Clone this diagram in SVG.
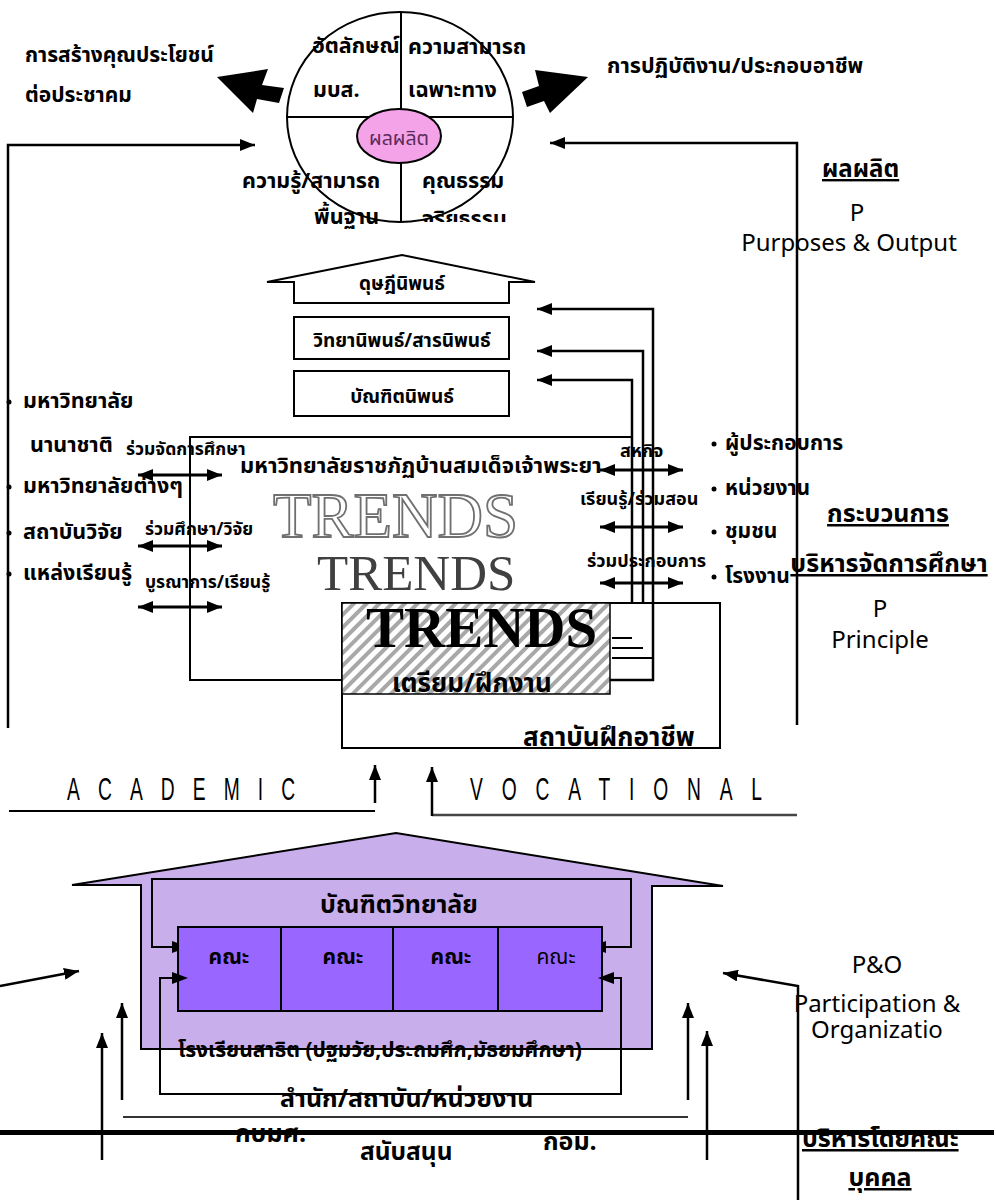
<svg xmlns="http://www.w3.org/2000/svg" width="996" height="1200" viewBox="0 0 996 1200">
<style>
.th{font-family:"Noto Sans Thai","Noto Sans Thai UI","Tahoma","Garuda","Loma","DejaVu Sans",sans-serif;font-weight:bold;fill:#000}
.en{font-family:"Noto Sans","Open Sans","DejaVu Sans",sans-serif;fill:#000;font-size:24px}
.ln{fill:none;stroke:#000;stroke-width:2}
.la{fill:none;stroke:#000;stroke-width:2.5;marker-end:url(#ah)}
.dbl{fill:none;stroke:#000;stroke-width:3;marker-start:url(#ah);marker-end:url(#ah)}
.mid{text-anchor:middle}
.u{text-decoration:underline}
.sp{font-family:"Liberation Sans","Noto Sans",sans-serif;font-size:31px;fill:#000}
</style>
<defs>
<marker id="ah" viewBox="0 0 15 12" refX="15" refY="6" markerWidth="15" markerHeight="12" markerUnits="userSpaceOnUse" orient="auto-start-reverse"><path d="M0,0 L15,6 L0,12 z" fill="#000"/></marker>
<pattern id="hatch" patternUnits="userSpaceOnUse" width="9" height="9" patternTransform="rotate(45)"><rect width="9" height="9" fill="#fff"/><rect x="0" y="0" width="4" height="9" fill="#a8a8a8"/></pattern>
<clipPath id="cc"><rect x="0" y="0" width="996" height="222"/></clipPath>
</defs>

<g id="left-label">
<text class="th" x="25" y="62" font-size="21">การสร้างคุณประโยชน์</text>
<text class="th" x="25" y="102" font-size="21">ต่อประชาคม</text>
<polygon points="217,77 268,69 262,85 284,88 279,103 257,99 253,113" fill="#000"/>
</g>

<g id="right-label">
<text class="th" x="607" y="73" font-size="21.5">การปฏิบัติงาน/ประกอบอาชีพ</text>
<polygon points="588,77 535,70 539,86 522,92 527,107 544,101 550,113" fill="#000"/>
</g>

<g id="output-circle">
<ellipse cx="400" cy="117" rx="113" ry="105" fill="#fff" stroke="#000" stroke-width="2"/>
<line class="ln" x1="401" y1="12" x2="401" y2="222"/>
<line class="ln" x1="288" y1="117" x2="513" y2="117"/>
<ellipse cx="399" cy="136" rx="42" ry="27" fill="#f4a3e8" stroke="#000" stroke-width="2"/>
<text class="th mid" x="399" y="145" font-size="19.5" style="fill:#5a2a5a;font-weight:normal">ผลผลิต</text>
<text class="th" x="312" y="53" font-size="21.5">อัตลักษณ์</text>
<text class="th" x="313" y="97" font-size="21.5">มบส.</text>
<text class="th" x="408" y="54" font-size="21.5">ความสามารถ</text>
<text class="th" x="408" y="97" font-size="21.5">เฉพาะทาง</text>
<text class="th" x="242" y="188" font-size="21.5">ความรู้/สามารถ</text>
<text class="th" x="314" y="224" font-size="21.5">พื้นฐาน</text>
<text class="th" x="422" y="226" font-size="21.5" clip-path="url(#cc)">จริยธรรม</text>
<text class="th" x="422" y="188" font-size="21.5">คุณธรรม</text>
</g>

<g id="output-text">
<text class="th u" x="822" y="177" font-size="24">ผลผลิต</text>
<text class="en mid" x="857" y="221">P</text>
<text class="en mid" x="849" y="251">Purposes &amp; Output</text>
</g>

<g id="thesis-boxes">
<polygon points="267,282 402,255 535,282 509,282 509,303 294,303 294,282" fill="#fff" stroke="#000" stroke-width="2"/>
<text class="th mid" x="402" y="290" font-size="19">ดุษฎีนิพนธ์</text>
<rect x="294" y="317" width="215" height="42" fill="#fff" stroke="#000" stroke-width="2"/>
<text class="th mid" x="402" y="347" font-size="19">วิทยานิพนธ์/สารนิพนธ์</text>
<rect x="294" y="371" width="215" height="45" fill="#fff" stroke="#000" stroke-width="2"/>
<text class="th mid" x="402" y="403" font-size="19">บัณฑิตนิพนธ์</text>
</g>

<g id="vocational-box">
<rect x="342" y="603" width="378" height="145" fill="#fff" stroke="#000" stroke-width="2"/>
<text class="th" x="523" y="746" font-size="26">สถาบันฝึกอาชีพ</text>
</g>

<g id="connectors">
<path class="la" d="M8,728 V145 H255"/>
<path class="la" d="M797,725 V143 H550"/>
<path class="la" d="M610,680 H653 V309 H537"/>
<path class="la" d="M643,603 V351 H537"/>
<path class="la" d="M632,603 V380 H537"/>
<path class="ln" d="M612,638 H632 M612,648 H643 M612,658 H653"/>
<path class="dbl" d="M138,475 H222"/>
<path class="dbl" d="M138,546 H222"/>
<path class="dbl" d="M138,607 H222"/>
<path class="dbl" d="M600,470 H683"/>
<path class="dbl" d="M600,527 H683"/>
<path class="dbl" d="M600,583 H683"/>
<path class="ln" d="M9,811 H375"/>
<path class="la" d="M375,803 V765"/>
<path class="ln" d="M432,815 H797" style="stroke:#444;stroke-width:2.5"/>
<path class="la" d="M432,816 V767"/>
<path class="la" d="M0,986 L79,971"/>
<path class="la" d="M798,1200 V986 L723,973"/>
<path class="la" d="M102,1160 V1033"/>
<path class="la" d="M122,1100 V1003"/>
<path class="la" d="M688,1100 V1003"/>
<path class="la" d="M707,1160 V1031"/>
<path class="ln" d="M123,1117 H688" style="stroke:#333"/>
</g>

<g id="main-box">
<path class="ln" d="M632,437 H190 V680 H342"/>
<text class="th" x="240" y="473" font-size="22">มหาวิทยาลัยราชภัฏบ้านสมเด็จเจ้าพระยา</text>
<text x="273" y="537" font-family="Liberation Serif,serif" font-size="63" fill="#fff" stroke="#707070" stroke-width="1.8">TRENDS</text>
<text x="317" y="590" font-family="Liberation Serif,serif" font-size="51" fill="#404040">TRENDS</text>
</g>

<g id="training-box">
<rect x="342" y="603" width="268" height="91" fill="url(#hatch)" stroke="#000" stroke-width="1.5"/>
<text x="366" y="647" font-family="Liberation Serif,serif" font-size="57" font-weight="bold" fill="#000">TRENDS</text>
<text class="th" x="392" y="692" font-size="26">เตรียม/ฝึกงาน</text>
</g>

<g id="left-partners">
<circle cx="9" cy="402" r="2.5"/>
<circle cx="9" cy="487" r="2.5"/>
<circle cx="9" cy="533" r="2.5"/>
<circle cx="9" cy="574" r="2.5"/>
<text class="th" x="23" y="408" font-size="21.5">มหาวิทยาลัย</text>
<text class="th" x="30" y="452" font-size="21.5">นานาชาติ</text>
<text class="th" x="23" y="493" font-size="21.5">มหาวิทยาลัยต่างๆ</text>
<text class="th" x="23" y="539" font-size="21.5">สถาบันวิจัย</text>
<text class="th" x="23" y="580" font-size="21.5">แหล่งเรียนรู้</text>
<text class="th" x="126" y="455" font-size="17.5">ร่วมจัดการศึกษา</text>
<text class="th" x="145" y="535" font-size="17.5">ร่วมศึกษา/วิจัย</text>
<text class="th" x="145" y="588" font-size="17.5">บูรณาการ/เรียนรู้</text>
</g>

<g id="right-partners">
<text class="th" x="620" y="457" font-size="18">สหกิจ</text>
<text class="th" x="580" y="505" font-size="18">เรียนรู้/ร่วมสอน</text>
<text class="th" x="587" y="567" font-size="18">ร่วมประกอบการ</text>
<circle cx="714" cy="444" r="2.5"/>
<circle cx="714" cy="489" r="2.5"/>
<circle cx="714" cy="532" r="2.5"/>
<circle cx="714" cy="577" r="2.5"/>
<text class="th" x="725" y="450" font-size="21">ผู้ประกอบการ</text>
<text class="th" x="725" y="495" font-size="21">หน่วยงาน</text>
<text class="th" x="725" y="538" font-size="21">ชุมชน</text>
<text class="th" x="725" y="583" font-size="21">โรงงาน</text>
</g>

<g id="process-text">
<text class="th u mid" x="888" y="522" font-size="25">กระบวนการ</text>
<text class="th u mid" x="889" y="572" font-size="25">บริหารจัดการศึกษา</text>
<text class="en mid" x="880" y="617">P</text>
<text class="en mid" x="880" y="648">Principle</text>
</g>

<g id="tracks">
<text class="sp" transform="matrix(0.62,0,0,1,67,800)" x="0" y="0" textLength="368" lengthAdjust="spacing">ACADEMIC</text>
<text class="sp" transform="matrix(0.62,0,0,1,470,800)" x="0" y="0" textLength="471" lengthAdjust="spacing">VOCATIONAL</text>
</g>

<g id="university-building">
<polygon points="72,885 396,833 723,886 652,886 652,1049 141,1049 141,885" fill="#c8aeea" stroke="#000" stroke-width="2"/>
<path class="ln" d="M176,947 H152 V879 H631 V947 H604"/>
<polygon points="172,941 188,947 172,953" fill="#000"/>
<polygon points="606,941 590,947 606,953" fill="#000"/>
<text class="th mid" x="399" y="913" font-size="25">บัณฑิตวิทยาลัย</text>
<rect x="178" y="927" width="103" height="84" fill="#9966ff" stroke="#000" stroke-width="2"/>
<rect x="281" y="927" width="112" height="84" fill="#9966ff" stroke="#000" stroke-width="2"/>
<rect x="393" y="927" width="105" height="84" fill="#9966ff" stroke="#000" stroke-width="2"/>
<rect x="498" y="927" width="104" height="84" fill="#9966ff" stroke="#000" stroke-width="2"/>
<text class="th mid" x="229" y="964" font-size="21">คณะ</text>
<text class="th mid" x="343" y="964" font-size="21">คณะ</text>
<text class="th mid" x="451" y="964" font-size="21">คณะ</text>
<text class="th mid" x="556" y="964" font-size="21" style="font-weight:normal">คณะ</text>
<text class="th" x="178" y="1057" font-size="21">โรงเรียนสาธิต (ปฐมวัย,ประถมศึก,มัธยมศึกษา)</text>
</g>

<g id="support-loop">
<path class="ln" d="M600,978 H621 V1094 H160 V978 H176"/>
<polygon points="172,972 188,978 172,984" fill="#000"/>
<polygon points="614,972 598,978 614,984" fill="#000"/>
<text class="th" x="280" y="1107" font-size="25">สำนัก/สถาบัน/หน่วยงาน</text>
</g>

<g id="participation-text">
<text class="en mid" x="877" y="973">P&amp;O</text>
<text class="en mid" x="877" y="1012" font-size="23">Participation &amp;</text>
<text class="en mid" x="877" y="1038" font-size="23">Organizatio</text>
</g>

<g id="support-text">
<text class="th" x="235" y="1142" font-size="25">กบมศ.</text>
<text class="th" x="360" y="1160" font-size="24.5">สนับสนุน</text>
<text class="th" x="543" y="1150" font-size="25">กอม.</text>
<text class="th u" x="802" y="1147" font-size="25">บริหารโดยคณะ</text>
<text class="th u mid" x="880" y="1186" font-size="25">บุคคล</text>
<rect x="0" y="1130" width="994" height="5" fill="#000"/>
</g>
</svg>
